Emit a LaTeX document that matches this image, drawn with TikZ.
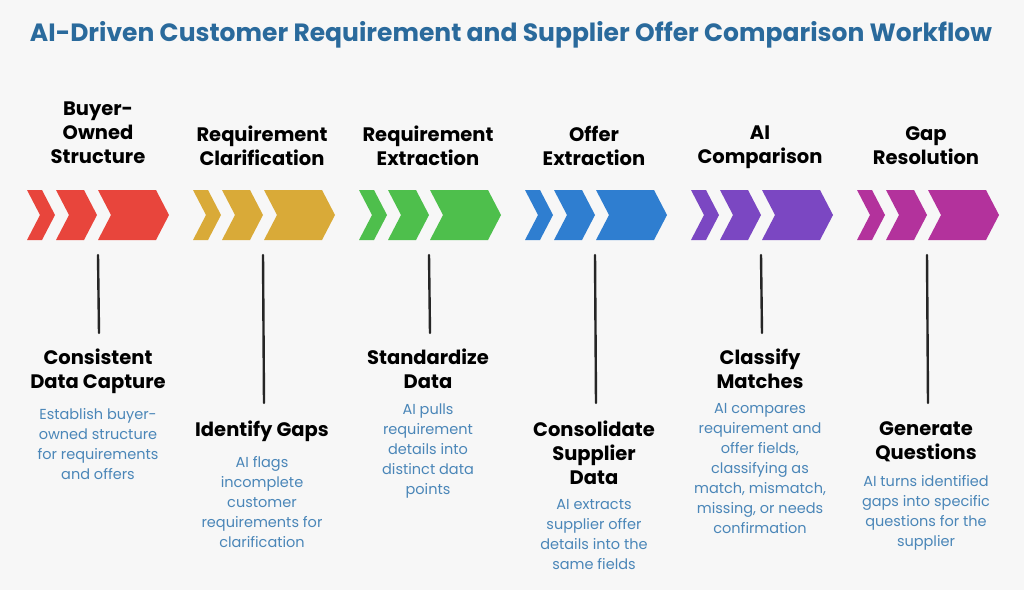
\documentclass[tikz,border=0pt]{standalone}
\usepackage{fontspec}
\setmainfont{Poppins}
\usepackage{tikz}
\usetikzlibrary{positioning}

\definecolor{ttlblue}{HTML}{2A6A9C}
\definecolor{txtblue}{HTML}{4A86B8}
\definecolor{cred}{HTML}{E8453C}
\definecolor{cyel}{HTML}{D9AA38}
\definecolor{cgrn}{HTML}{4EBF4C}
\definecolor{cblu}{HTML}{2F7ED0}
\definecolor{cpur}{HTML}{7B47C2}
\definecolor{cmag}{HTML}{B3329C}

\tikzset{
  head/.style={font=\bfseries\fontsize{19.5}{24}\selectfont, align=center, text=black, inner sep=0pt},
  desc/.style={font=\fontsize{14.5}{20}\selectfont, align=center, text=txtblue, inner sep=0pt},
  stem/.style={line width=2.4pt, black!85, line cap=round}
}

% chevron: x-start, x-end, colour
\newcommand{\chev}[3]{%
  \fill[#3] (#1,190) -- (#2-13,190) -- (#2,215) -- (#2-13,240) -- (#1,240) -- (#1+13,215) -- cycle;}

\begin{document}
\begin{tikzpicture}[x=1pt, y=-1pt]
    % --- canvas ---
    \fill[gray!6] (0,0) rectangle (1024,590);
    \useasboundingbox (0,0) rectangle (1024,590);

    \node[font=\bfseries\fontsize{25}{30}\selectfont, text=ttlblue] (title) at (511,35)
        {AI-Driven Customer Requirement and Supplier Offer Comparison Workflow};

    % --- chevrons ---
    \foreach \ox/\col in {98/cred, 264/cyel, 430/cgrn, 596/cblu, 762/cpur, 928/cmag} {
        \chev{\ox-71}{\ox-43}{\col}
        \chev{\ox-42}{\ox-1}{\col}
        \chev{\ox}{\ox+71}{\col}
    }

    % --- top headings ---
    \node[head, anchor=north] (h1) at (98,102) {Buyer-\\Owned\\Structure};
    \node[head, anchor=north] (h2) at (262,126) {Requirement\\Clarification};
    \node[head, anchor=north] (h3) at (428,126) {Requirement\\Extraction};
    \node[head, anchor=north] (h4) at (594,126) {Offer\\Extraction};
    \node[head, anchor=north] (h5) at (760,126) {AI\\Comparison};
    \node[head, anchor=north] (h6) at (926,126) {Gap\\Resolution};

    % --- stems ---
    \coordinate (s1) at (98,255);  \coordinate (e1) at (99,333);
    \coordinate (s2) at (263,255); \coordinate (e2) at (264,403);
    \coordinate (s3) at (429,255); \coordinate (e3) at (430,333);
    \coordinate (s4) at (595,255); \coordinate (e4) at (596,403);
    \coordinate (s5) at (761,255); \coordinate (e5) at (762,333);
    \coordinate (s6) at (927,255); \coordinate (e6) at (928,403);
    \foreach \i in {1,...,6} {
        \draw[stem] (s\i) -- (e\i);
    }

    % --- lower headings ---
    \node[head, anchor=north] (b1) at (98,349) {Consistent\\Data Capture};
    \node[head, anchor=north] (b2) at (262,421) {Identify Gaps};
    \node[head, anchor=north] (b3) at (428,349) {Standardize\\Data};
    \node[head, anchor=north] (b4) at (594,421) {Consolidate\\Supplier\\Data};
    \node[head, anchor=north] (b5) at (760,349) {Classify\\Matches};
    \node[head, anchor=north] (b6) at (926,421) {Generate\\Questions};

    % --- descriptions ---
    \node[desc, below=14pt of b1] (d1) {Establish buyer-\\owned structure\\for requirements\\and offers};
    \node[desc, below=14pt of b2] (d2) {AI flags\\incomplete\\customer\\requirements for\\clarification};
    \node[desc, below=14pt of b3] (d3) {AI pulls\\requirement\\details into\\distinct data\\points};
    \node[desc, below=14pt of b4] (d4) {AI extracts\\supplier offer\\details into the\\same fields};
    \node[desc, below=14pt of b5] (d5) {AI compares\\requirement and\\offer fields,\\classifying as\\match, mismatch,\\missing, or needs\\confirmation};
    \node[desc, below=14pt of b6] (d6) {AI turns identified\\gaps into specific\\questions for the\\supplier};
\end{tikzpicture}
\end{document}
